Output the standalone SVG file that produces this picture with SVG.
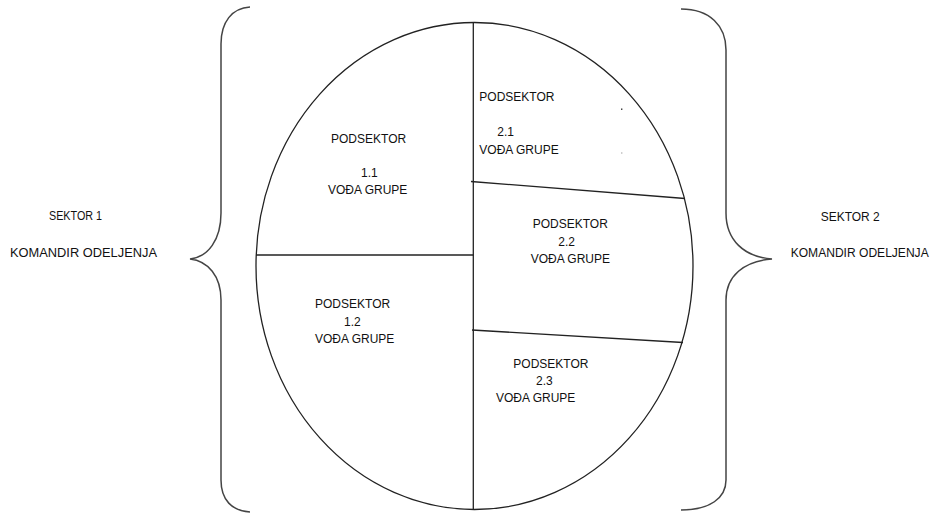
<svg xmlns="http://www.w3.org/2000/svg" width="933" height="513" viewBox="0 0 933 513">
<style>
.ln{fill:none;stroke:#222;stroke-width:1.3}
.br{fill:none;stroke:#444;stroke-width:1.5}
text{font-family:"Liberation Sans",Arial,sans-serif;font-size:12px;fill:#111}
.w{font-size:12.5px}
</style>
<rect width="933" height="513" fill="#fff"/>
<g id="brace-left"><path class="br" d="M250,7 C232,8 221,22 221,44 L221,213 C221,240 208,257 190,259 C208,261 221,276 221,300 L221,480 C221,500 232,511 250,512"/></g>
<g id="brace-right"><path class="br" d="M681,9 C710,9 726,26 726,50 L726,213 C726,240 744,257 772,259 C744,261 726,276 726,300 L726,480 C726,498 710,510 681,510"/></g>
<g id="connectors">
<ellipse class="ln" cx="474.5" cy="266" rx="218.5" ry="243.5"/>
<line class="ln" x1="473.3" y1="22.5" x2="473.3" y2="509.5"/>
<line class="ln" x1="256" y1="255" x2="473.3" y2="255"/>
<line class="ln" x1="471" y1="181.5" x2="685" y2="198.5"/>
<line class="ln" x1="472" y1="330" x2="683" y2="342.5"/>
<rect x="621" y="108.5" width="1.4" height="1.4" fill="#333"/>
<rect x="621.3" y="152" width="1" height="2" fill="#bbb"/>
</g>
<g id="sektor1"><text x="49" y="219.5" textLength="53" lengthAdjust="spacingAndGlyphs">SEKTOR 1</text><text class="w" x="10" y="256.5" textLength="147" lengthAdjust="spacingAndGlyphs">KOMANDIR ODELJENJA</text></g>
<g id="sektor2"><text x="820.7" y="221" textLength="59" lengthAdjust="spacingAndGlyphs">SEKTOR 2</text><text class="w" x="790.7" y="256.7" textLength="138" lengthAdjust="spacingAndGlyphs">KOMANDIR ODELJENJA</text></g>
<g id="podsektor-1-1"><text x="331" y="143.3">PODSEKTOR</text><text x="361" y="177.3">1.1</text><text x="328" y="194">VOĐA GRUPE</text></g>
<g id="podsektor-1-2"><text x="315" y="308.3">PODSEKTOR</text><text x="344" y="326">1.2</text><text x="315" y="343.3">VOĐA GRUPE</text></g>
<g id="podsektor-2-1"><text x="479.3" y="100.7">PODSEKTOR</text><text x="497.3" y="136">2.1</text><text x="479.3" y="154">VOĐA GRUPE</text></g>
<g id="podsektor-2-2"><text x="532.7" y="228.3">PODSEKTOR</text><text x="558.3" y="246">2.2</text><text x="530.7" y="263.3">VOĐA GRUPE</text></g>
<g id="podsektor-2-3"><text x="513.3" y="368.3">PODSEKTOR</text><text x="536" y="385">2.3</text><text x="496" y="401.7">VOĐA GRUPE</text></g>
</svg>
